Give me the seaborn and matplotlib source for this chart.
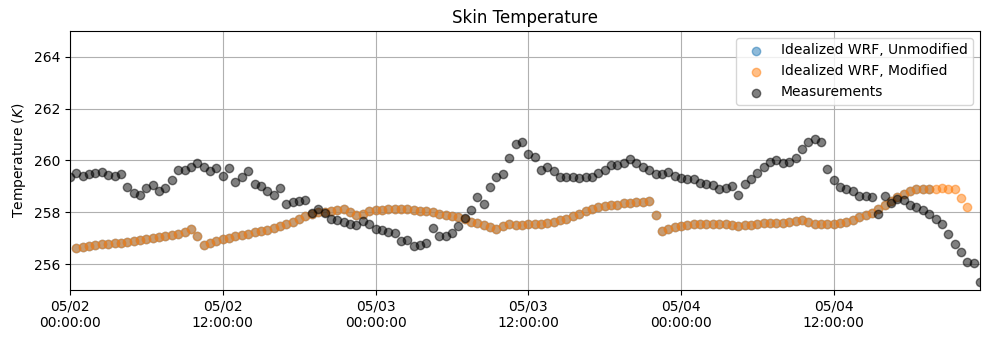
import numpy as np
import pandas as pd
import matplotlib
matplotlib.use("Agg")
import matplotlib.pyplot as plt
import matplotlib.dates as mdates
import seaborn as sns

nan = np.nan

start_time = "2020-05-02 00:00"
n_steps = 144
step = "30min"

measurements = [
    259.36, 259.51, 259.42, 259.47, 259.53, 259.54, 259.45, 259.41, 259.46, 258.96,
    258.74, 258.68, 258.94, 259.04, 258.82, 258.92, 259.26, 259.62, 259.62, 259.74,
    259.90, 259.74, 259.59, 259.70, 259.42, 259.70, 259.18, 259.38, 259.59, 259.10,
    259.03, 258.81, 258.68, 258.93, 258.33, 258.41, 258.43, 258.46, 257.98, 258.12,
    257.96, 257.76, 257.72, 257.63, 257.53, 257.52, 257.67, 257.56, 257.37, 257.30,
    257.23, 257.22, 256.91, 256.92, 256.70, 256.73, 256.80, 257.39, 257.07, 257.07,
    257.22, 257.49, 257.78, 258.08, 258.58, 258.33, 258.96, 259.37, 259.49, 260.08,
    260.64, 260.70, 260.26, 260.15, 259.62, 259.73, 259.59, 259.38, 259.36, 259.38,
    259.32, 259.38, 259.36, 259.53, 259.62, 259.81, 259.81, 259.90, 260.06, 259.91,
    259.74, 259.62, 259.49, 259.49, 259.55, 259.42, 259.32, 259.27, 259.27, 259.14,
    259.08, 259.04, 258.91, 258.94, 259.00, 258.68, 259.10, 259.29, 259.53, 259.74,
    259.96, 260.00, 259.90, 259.96, 260.10, 260.45, 260.73, 260.83, 260.73, 259.68,
    259.23, 258.97, 258.90, 258.82, 258.62, 258.62, 258.59, 257.95, 258.62, 258.37,
    258.53, 258.46, 258.27, 258.21, 258.08, 257.95, 257.73, 257.53, 257.18, 256.79,
    256.45, 256.09, 256.03, 255.32,
]

modified = [
    nan, 256.64, 256.67, 256.69, 256.72, 256.76, 256.78, 256.80, 256.83, 256.87,
    256.91, 256.93, 256.96, 256.99, 257.03, 257.07, 257.12, 257.17, 257.24, 257.37,
    257.08, 256.73, 256.83, 256.90, 256.96, 257.01, 257.08, 257.13, 257.18, 257.24,
    257.28, 257.33, 257.41, 257.47, 257.55, 257.63, 257.76, 257.87, 257.95, 258.00,
    258.02, 258.06, 258.10, 258.14, 258.01, 257.88, 257.95, 258.04, 258.07, 258.09,
    258.11, 258.12, 258.12, 258.11, 258.09, 258.06, 258.04, 258.00, 257.95, 257.89,
    257.85, 257.80, 257.74, 257.64, 257.57, 257.51, 257.45, 257.37, 257.46, 257.53,
    257.51, 257.50, 257.53, 257.54, 257.56, 257.57, 257.63, 257.69, 257.76, 257.86,
    257.95, 258.04, 258.12, 258.21, 258.24, 258.27, 258.29, 258.35, 258.37, 258.40,
    258.40, 258.45, 257.88, 257.27, 257.37, 257.44, 257.47, 257.50, 257.53, 257.54,
    257.54, 257.54, 257.54, 257.54, 257.50, 257.49, 257.50, 257.51, 257.54, 257.58,
    257.58, 257.58, 257.60, 257.63, 257.67, 257.72, 257.63, 257.56, 257.56, 257.56,
    257.54, 257.60, 257.64, 257.72, 257.82, 257.88, 257.99, 258.12, 258.27, 258.42,
    258.59, 258.72, 258.82, 258.88, 258.91, 258.91, 258.91, 258.94, 258.91, 258.88,
    258.55, 258.21, nan, nan,
]

unmodified = [
    nan, 256.64, 256.67, 256.69, 256.72, 256.76, 256.78, 256.80, 256.83, 256.87,
    256.91, 256.93, 256.96, 256.99, 257.03, 257.07, 257.12, 257.17, 257.24, 257.37,
    257.08, 256.73, 256.83, 256.90, 256.96, 257.01, 257.08, 257.13, 257.18, 257.24,
    257.28, 257.33, 257.41, 257.47, 257.55, 257.63, 257.76, 257.87, 257.95, 258.00,
    258.02, 258.06, 258.10, 258.14, 258.01, 257.88, 257.95, 258.04, 258.07, 258.09,
    258.11, 258.12, 258.12, 258.11, 258.09, 258.06, 258.04, 258.00, 257.95, 257.89,
    257.85, 257.80, 257.74, 257.64, 257.57, 257.51, 257.45, 257.37, 257.46, 257.53,
    257.51, 257.50, 257.53, 257.54, 257.56, 257.57, 257.63, 257.69, 257.76, 257.86,
    257.95, 258.04, 258.12, 258.21, 258.24, 258.27, 258.29, 258.35, 258.37, 258.40,
    258.40, 258.45, 257.88, 257.27, 257.37, 257.44, 257.47, 257.50, 257.53, 257.54,
    257.54, 257.54, 257.54, 257.54, 257.50, 257.49, 257.50, 257.51, 257.54, 257.58,
    257.58, 257.58, 257.60, 257.63, 257.67, 257.72, 257.63, 257.56, 257.56, 257.56,
    257.54, 257.60, 257.64, 257.72, 257.82, 257.88, 257.99, 258.12, 258.27, 258.42,
    258.59, 258.72, 258.82, 258.88, 258.91, 258.91,
]

labels = ["Idealized WRF, Unmodified", "Idealized WRF, Modified", "Measurements"]
colors = ["#1f77b4", "#ff7f0e", "black"]

times = pd.date_range(start_time, periods=n_steps, freq=step)

fig, ax = plt.subplots(figsize=(9.89, 3.40), dpi=100)
fig.subplots_adjust(left=0.0708, right=0.991, top=0.909, bottom=0.147)

series = [unmodified, modified, measurements]
for vals, lab, col in zip(series, labels, colors):
    df = pd.DataFrame({"time": times[:len(vals)], "value": vals}).dropna()
    sns.scatterplot(data=df, x="time", y="value", ax=ax, color=col, alpha=0.5,
                    s=36, edgecolor=col, linewidth=1.0, label=lab, zorder=3)

ax.set_axisbelow(True)
ax.grid(True, color="#b0b0b0", linewidth=0.8)
ax.set_xlim(times[0], times[-1])
ax.set_ylim(255, 265)
ax.set_yticks([256, 258, 260, 262, 264])
ax.xaxis.set_major_locator(mdates.HourLocator(byhour=[0, 12]))
ax.xaxis.set_major_formatter(mdates.DateFormatter("%m/%d\n%H:%M:%S"))
ax.set_xlabel("")
ax.set_ylabel("Temperature ($K$)")
ax.set_title("Skin Temperature")
ax.legend(loc="upper right")

fig.savefig("out.png", dpi=100)
